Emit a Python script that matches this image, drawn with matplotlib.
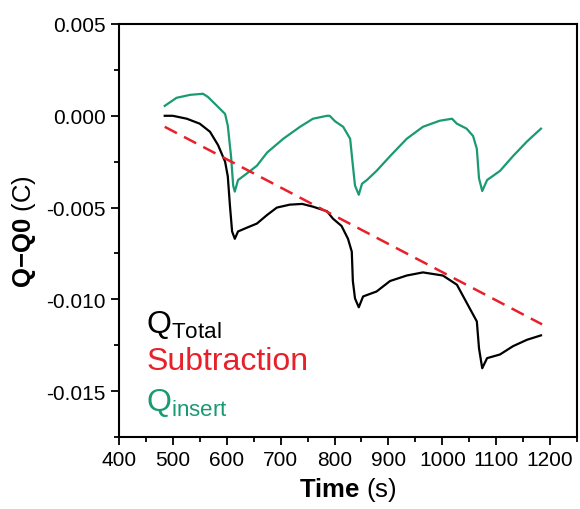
"""
Charge vs time: Q_Total, linear subtraction baseline and Q_insert.
"""

import matplotlib
matplotlib.use("Agg")
import matplotlib.pyplot as plt
from matplotlib.ticker import MultipleLocator

plt.rcParams["font.family"] = ["Liberation Sans", "DejaVu Sans"]
plt.rcParams["mathtext.fontset"] = "custom"
plt.rcParams["mathtext.rm"] = "Liberation Sans"
plt.rcParams["mathtext.bf"] = "Liberation Sans:bold"
plt.rcParams["mathtext.it"] = "Liberation Sans:italic"

# ---------------------------------------------------------------------------
# Data
# ---------------------------------------------------------------------------
total_t = [485, 500, 526, 550, 569, 584, 597, 602, 606, 610, 615, 621, 637,
           656, 675, 693, 717, 740, 760, 786, 797, 813, 825, 832, 834, 838,
           845, 853, 878, 903, 934, 964, 1001, 1027, 1051, 1064, 1068, 1074,
           1083, 1107, 1131, 1157, 1183]
total_q = [0.0, 0.0, -0.00016, -0.00043, -0.00087, -0.0016, -0.0025,
           -0.0033, -0.0049, -0.0063, -0.0067, -0.0063, -0.0061, -0.00587,
           -0.0054, -0.0050, -0.00484, -0.0048, -0.00495, -0.0052, -0.0056,
           -0.0060, -0.0067, -0.0074, -0.0090, -0.00995, -0.01043, -0.00984,
           -0.00957, -0.0090, -0.0087, -0.00853, -0.0087, -0.0092, -0.0105,
           -0.0112, -0.01266, -0.01375, -0.0132, -0.0130, -0.01255, -0.0122,
           -0.01196]

insert_t = [485, 507, 532, 556, 565, 582, 597, 602, 608, 612, 615, 621, 637,
            656, 675, 705, 736, 760, 786, 791, 801, 816, 829, 834, 838, 845,
            851, 860, 878, 903, 934, 964, 995, 1018, 1027, 1045, 1057, 1064,
            1068, 1074, 1083, 1107, 1131, 1157, 1183]
insert_q = [0.00054, 0.00098, 0.00114, 0.0012, 0.00103, 0.00054, 0.0001,
            -0.00054, -0.0022, -0.0038, -0.00413, -0.0035, -0.00315,
            -0.00272, -0.0020, -0.00125, -0.0006, -0.00016, 0.0, 0.0,
            -0.0003, -0.0006, -0.00125, -0.0027, -0.0038, -0.0043, -0.0037,
            -0.0035, -0.0030, -0.0022, -0.00125, -0.0006, -0.00027, -0.00016,
            -0.00043, -0.0007, -0.0011, -0.0018, -0.0034, -0.0041, -0.0035,
            -0.0030, -0.0022, -0.0014, -0.0007]

subtraction_t = [485, 1185]
subtraction_q = [-0.0006, -0.01136]

BLACK = "#000000"
RED = "#e8202a"
GREEN = "#1a9a72"

fig = plt.figure(figsize=(5.8, 5.1), dpi=100)
ax = fig.add_axes([0.205, 0.141, 0.79, 0.81])

ax.plot(total_t, total_q, color=BLACK, lw=1.6)
ax.plot(insert_t, insert_q, color=GREEN, lw=1.6)
ax.plot(subtraction_t, subtraction_q, color=RED, lw=1.8,
        dashes=(5.5, 3.2))

ax.set_xlim(400, 1250)
ax.set_ylim(-0.0175, 0.005)
ax.xaxis.set_major_locator(MultipleLocator(100))
ax.xaxis.set_minor_locator(MultipleLocator(50))
ax.yaxis.set_major_locator(MultipleLocator(0.005))
ax.yaxis.set_minor_locator(MultipleLocator(0.0025))
ax.yaxis.set_major_formatter(plt.FuncFormatter(lambda v, p: f"{v:.3f}"))

for s in ax.spines.values():
    s.set_linewidth(1.5)
ax.tick_params(which="both", direction="out", top=False, right=False,
               width=1.3, labelsize=15)
ax.tick_params(which="major", length=6)
ax.tick_params(which="minor", length=3.5)

ax.set_xlabel(r"$\mathbf{Time}$ (s)", fontsize=18.5, labelpad=4)
ax.set_ylabel(r"$\mathbf{Q{-}Q0}$ (C)", fontsize=18.5, labelpad=6)

# Text legend
ax.text(0.06, 0.254, r"$\mathrm{Q}_{\mathrm{Total}}$", transform=ax.transAxes,
        fontsize=23, color=BLACK, ha="left", va="baseline")
ax.text(0.06, 0.165, "Subtraction", transform=ax.transAxes,
        fontsize=23, color=RED, ha="left", va="baseline")
ax.text(0.06, 0.065, r"$\mathrm{Q}_{\mathrm{insert}}$", transform=ax.transAxes,
        fontsize=23, color=GREEN, ha="left", va="baseline")

fig.savefig("out.png", dpi=100, facecolor="white")
